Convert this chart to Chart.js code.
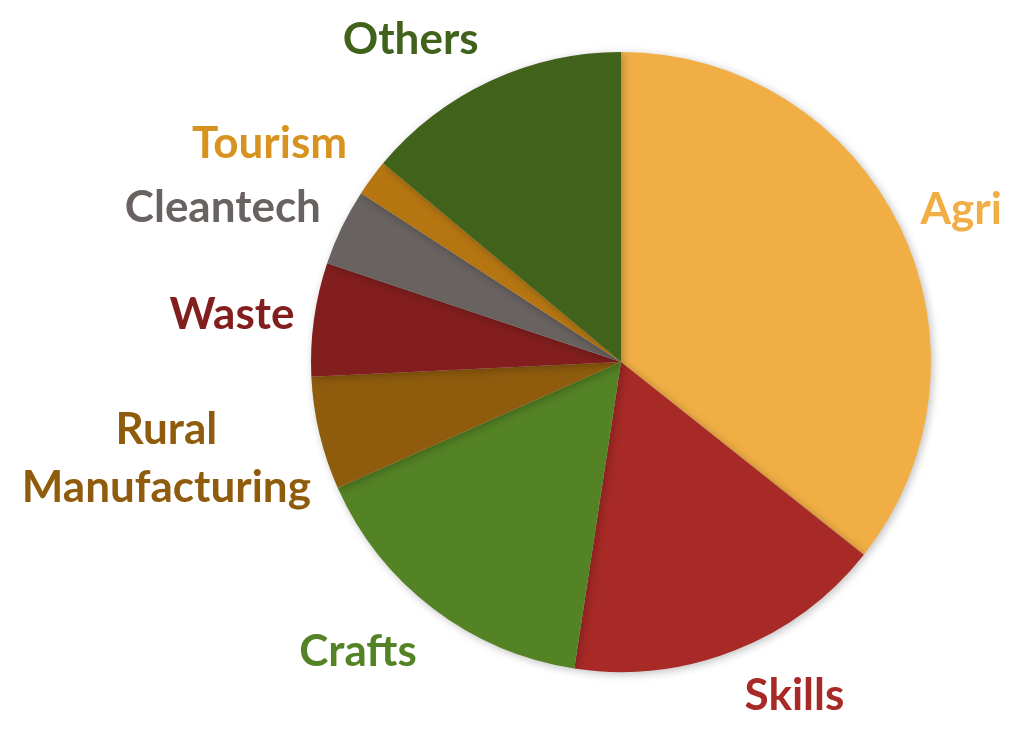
<!DOCTYPE html>
<html>
<head>
<meta charset="utf-8">
<script src="https://cdn.jsdelivr.net/npm/chart.js@4.4.0/dist/chart.umd.min.js"></script>
<style>
  html, body { margin: 0; padding: 0; background: #fff; }
  #wrap { width: 1033px; height: 743px; position: relative; }
</style>
</head>
<body>
<div id="wrap"><canvas id="pieChart"></canvas></div>
<script>
const SECTORS = ["Agri", "Skills", "Crafts", ["Rural", "Manufacturing"], "Waste", "Cleantech", "Tourism", "Others"];
const SHARES = [35.6, 16.7, 15.9, 5.9, 5.9, 4.0, 1.9, 13.9];
const SLICE_COLORS = ["#F0AE45", "#A72A26", "#548325", "#8F5C0E", "#821F1E", "#686261", "#B57612", "#41621B"];
const LABEL_COLORS = ["#F0AE45", "#A72A26", "#548325", "#8F5C0E", "#821F1E", "#686261", "#D8921F", "#41621B"];

// label nudge from the outer midpoint of each slice
const LABEL_NUDGE = [[61, -17], [60, 45], [-75, 43], [-153, 25], [-82, -4], [-119, -19], [-102, -34], [-79, -41]];

const outsideLabels = {
    id: "outsideLabels",
    afterDatasetsDraw(chart) {
        const ctx = chart.ctx;
        const arcs = chart.getDatasetMeta(0).data;
        ctx.save();
        ctx.font = "bold 44px Lato, 'Open Sans', sans-serif";
        ctx.textAlign = "center";
        ctx.textBaseline = "middle";
        arcs.forEach((arc, i) => {
            const mid = (arc.startAngle + arc.endAngle) / 2;
            const x = arc.x + Math.cos(mid) * arc.outerRadius + LABEL_NUDGE[i][0];
            const y = arc.y + Math.sin(mid) * arc.outerRadius + LABEL_NUDGE[i][1];
            const lines = Array.isArray(SECTORS[i]) ? SECTORS[i] : [SECTORS[i]];
            const lh = 58;
            ctx.fillStyle = LABEL_COLORS[i];
            lines.forEach((t, k) => {
                ctx.fillText(t, x, y + (k - (lines.length - 1) / 2) * lh);
            });
        });
        ctx.restore();
    }
};

const pieShadow = {
    id: "pieShadow",
    beforeDatasetsDraw(chart) {
        const ctx = chart.ctx;
        ctx.save();
        ctx.shadowColor = "rgba(0,0,0,0.25)";
        ctx.shadowBlur = 8;
        ctx.shadowOffsetX = 2;
        ctx.shadowOffsetY = 2;
    },
    afterDatasetsDraw(chart) {
        chart.ctx.restore();
    }
};

new Chart(document.getElementById("pieChart"), {
    type: "pie",
    data: {
        labels: SECTORS.map(s => Array.isArray(s) ? s.join(" ") : s),
        datasets: [{
            data: SHARES,
            backgroundColor: SLICE_COLORS,
            borderWidth: 0
        }]
    },
    options: {
        responsive: true,
        maintainAspectRatio: false,
        animation: false,
        layout: {
            padding: { left: 311, right: 102, top: 52, bottom: 71 }
        },
        plugins: {
            legend: { display: false },
            tooltip: { enabled: false }
        }
    },
    plugins: [pieShadow, outsideLabels]
});
</script>
</body>
</html>
